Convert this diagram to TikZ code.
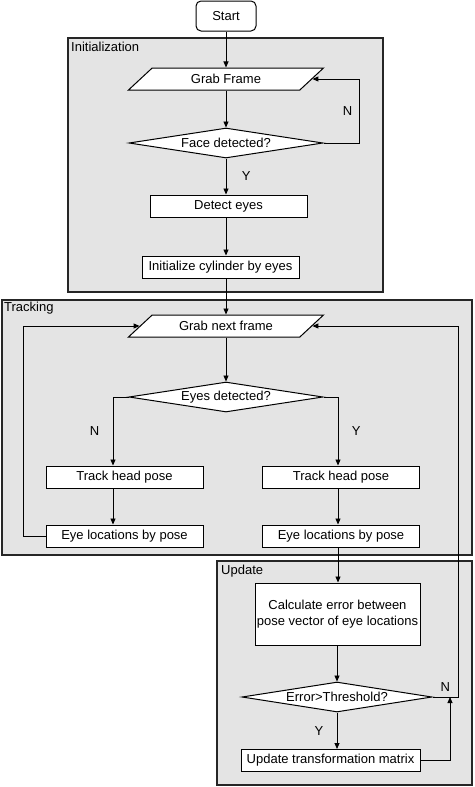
\documentclass[tikz,border=0pt]{standalone}
\usepackage{fontspec}
\setmainfont{Liberation Sans}
\usetikzlibrary{shapes.geometric,arrows.meta}
\definecolor{groupgray}{RGB}{228,228,228}

\begin{document}
\begin{tikzpicture}[x=1pt, y=-1pt, font=\fontsize{13}{16}\selectfont,
  proc/.style={rectangle, draw=black, fill=white, line width=1pt, minimum height=22, inner sep=1pt},
  io/.style={trapezium, trapezium left angle=26, trapezium right angle=154, trapezium stretches body,
    draw=black, fill=white, line width=1pt, minimum width=195, minimum height=22, inner sep=1pt},
  decision/.style={diamond, aspect=7, draw=black, fill=white, line width=1pt, minimum height=30, inner sep=0pt},
  group/.style={draw=black!85, line width=1.5pt, fill=groupgray},
  arr/.style={-{Triangle[length=6pt,width=5pt]}, line width=0.9pt}]

\useasboundingbox (0,0) rectangle (474,787);

% Groups
\draw[group] (68,38) rectangle (383,292);
\node[anchor=north west, inner sep=1pt] (initlbl) at (70,41) {Initialization};
\draw[group] (2,300) rectangle (472,555);
\node[anchor=north west, inner sep=1pt] (tracklbl) at (3,301) {Tracking};
\draw[group] (217,561) rectangle (472,785);
\node[anchor=north west, inner sep=1pt] (updlbl) at (220,564) {Update};

% Initialization
\node[rectangle, rounded corners=5pt, draw=black, fill=white, line width=1pt, minimum width=60, minimum height=30] (start) at (226,16) {Start};
\node[io] (grab) at (226,79) {Grab Frame};
\node[decision, minimum width=194] (face) at (226,143) {Face detected?};
\node[proc, minimum width=157] (detect) at (228.5,206) {Detect eyes};
\node[proc, minimum width=157] (initcyl) at (220.5,267) {Initialize cylinder by eyes};

% Tracking
\node[io] (grabnext) at (226,326) {Grab next frame};
\node[decision, minimum width=194] (eyes) at (226,397) {Eyes detected?};
\node[proc, minimum width=157] (trackN) at (124.5,477) {Track head pose};
\node[proc, minimum width=157] (trackY) at (341,477) {Track head pose};
\node[proc, minimum width=157] (eyelocN) at (124.5,536) {Eye locations by pose};
\node[proc, minimum width=157] (eyelocY) at (341,536) {Eye locations by pose};

% Update
\node[proc, minimum width=165, minimum height=62, align=center] (calc) at (337.5,614) {Calculate error between\\pose vector of eye locations};
\node[decision, minimum width=190] (err) at (337,697) {Error>Threshold?};
\node[proc, minimum width=179] (updmat) at (330.5,760.5) {Update transformation matrix};

% Turning points
\coordinate (faceN) at (359,143);
\coordinate (colN) at (113,397);
\coordinate (colY) at (338,397);
\coordinate (loopL) at (23,0);
\coordinate (loopR) at (458,0);
\coordinate (colU) at (450,0);

% Connections in initialization
\draw[arr] (start) -- (grab);
\draw[arr] (grab.south -| face.north) -- (face.north);
\draw[arr] (face.east) -- (faceN) |- node[pos=0.25, left=3pt] {N} (grab.east);
\draw[arr] (face.south) -- node[midway, right=12pt] {Y} (detect.north -| face.south);
\draw[arr] (detect.south -| face.south) -- (initcyl.north -| face.south);
\draw[arr] (initcyl.south -| grabnext.north) -- (grabnext.north);

% Connections in tracking
\draw[arr] (grabnext.south -| eyes.north) -- (eyes.north);
\draw[arr] (eyes.west) -| node[pos=0.75, left=10pt] {N} (trackN.north -| colN);
\draw[arr] (eyes.east) -| node[pos=0.75, right=10pt] {Y} (trackY.north -| colY);
\draw[arr] (trackN.south -| colN) -- (eyelocN.north -| colN);
\draw[arr] (trackY.south -| colY) -- (eyelocY.north -| colY);
\draw[arr] (eyelocN.west) -- (eyelocN.west -| loopL) |- (grabnext.west);

% Connections in update
\draw[arr] (eyelocY.south -| colY) -- (calc.north -| colY);
\draw[arr] (calc.south -| err.north) -- (err.north);
\draw[arr] (err.south) -- node[midway, left=10pt] {Y} (updmat.north -| err.south);
\draw[arr] (err.east) -- node[midway, above=2pt] {N} (err.east -| loopR) |- (grabnext.east);
\draw[arr] (updmat.east) -| (err.east -| colU);
\end{tikzpicture}
\end{document}
